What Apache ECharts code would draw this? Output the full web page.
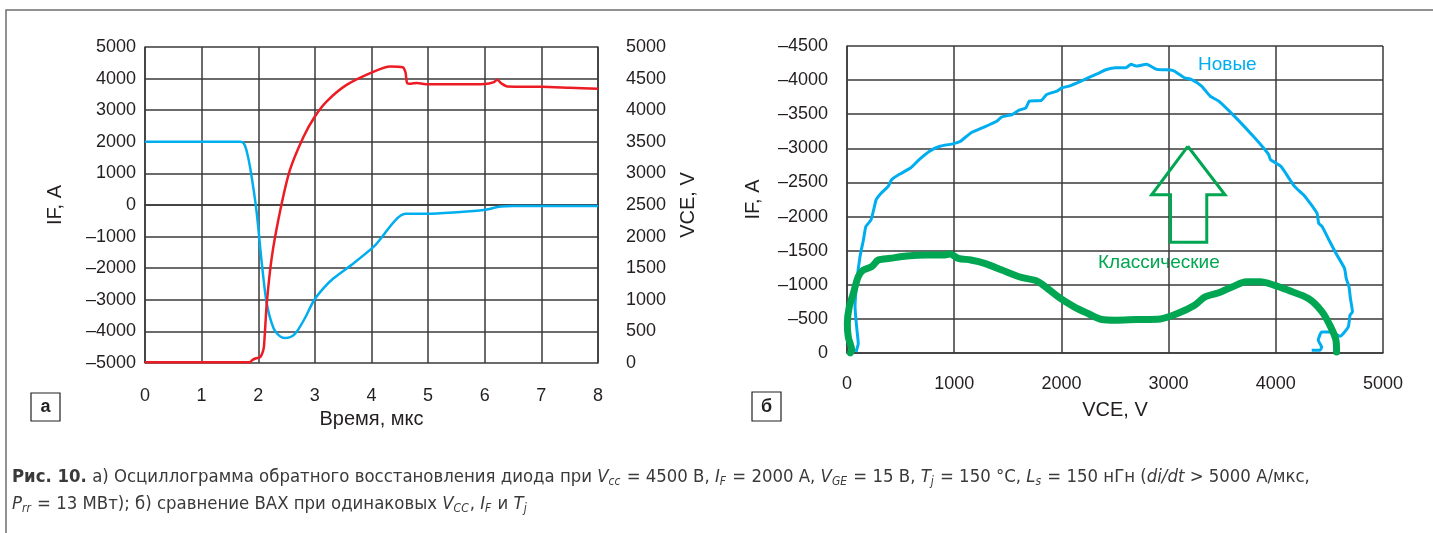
<!DOCTYPE html>
<html>
<head>
<meta charset="utf-8">
<script src="https://cdn.jsdelivr.net/npm/echarts@6/dist/echarts.min.js"></script>
<style>
html, body { margin: 0; padding: 0; background: #fff; }
#main { width: 1433px; height: 533px; }
</style>
</head>
<body>
<div id="main"></div>
<script>
// а) осциллограмма: время, мкс
const tIF = [0, 1.68, 1.74, 1.79, 1.86, 1.97, 2.06, 2.15, 2.27, 2.38, 2.48, 2.58, 2.68, 2.83, 2.98, 3.15, 3.33, 3.68, 4.04, 4.60, 4.98, 5.5, 5.98, 6.28, 6.5, 8];
const ifVals = [2000, 2000, 1960, 1750, 1150, -200, -1800, -3120, -3900, -4150, -4210, -4170, -4010, -3560, -3030, -2640, -2320, -1850, -1320, -280, -280, -230, -160, -50, -30, -30];

const tVce = [0, 1.84, 1.9, 1.96, 2.03, 2.07, 2.1, 2.15, 2.24, 2.39, 2.56, 2.80, 3.0, 3.21, 3.56, 4.04, 4.33, 4.55, 4.60, 4.63, 4.7, 4.8, 5.0, 5.5, 6.0, 6.15, 6.22, 6.3, 6.4, 7.0, 7.5, 8];
const vceVals = [10, 10, 50, 75, 90, 150, 254, 940, 1680, 2420, 3055, 3580, 3900, 4140, 4400, 4610, 4690, 4680, 4600, 4430, 4420, 4430, 4410, 4410, 4415, 4440, 4480, 4420, 4375, 4370, 4355, 4340];

// б) ВАХ: "Новые"
const newVce = [84, 105, 90, 75, 90, 121, 153, 176, 224, 256, 272, 320, 384, 416, 481, 593, 673, 770, 866, 995, 1059, 1155, 1284, 1396, 1445, 1541, 1605, 1669, 1701, 1814, 1862, 1958, 2007, 2071, 2183, 2344, 2408, 2505, 2601, 2649, 2697, 2794, 2890, 3019, 3051, 3147, 3211, 3308, 3388, 3468, 3629, 3790, 3886, 3934, 3950, 4047, 4175, 4272, 4384, 4400, 4432, 4496, 4561, 4641, 4657, 4683, 4696, 4715, 4692, 4676, 4599, 4521, 4428, 4396, 4428, 4412, 4335];
const newIF = [-15, -138, -382, -676, -1020, -1412, -1657, -1853, -1951, -2148, -2246, -2344, -2442, -2540, -2613, -2711, -2834, -2957, -3030, -3069, -3104, -3226, -3315, -3398, -3461, -3496, -3559, -3594, -3692, -3702, -3790, -3839, -3888, -3912, -3986, -4099, -4148, -4182, -4182, -4231, -4206, -4231, -4157, -4148, -4133, -4035, -4010, -3912, -3765, -3692, -3447, -3177, -3005, -2907, -2834, -2736, -2442, -2295, -2050, -1902, -1853, -1657, -1461, -1241, -1094, -971, -800, -604, -554, -382, -246, -309, -309, -187, -88, -40, -40];

// б) ВАХ: "Классические"
const oldVce = [31, 44, 12, 3, 21, 59, 105, 152, 230, 292, 401, 557, 743, 898, 963, 1038, 1155, 1284, 1445, 1605, 1766, 1830, 1991, 2119, 2248, 2376, 2505, 2698, 2922, 3083, 3243, 3340, 3468, 3597, 3725, 3854, 3982, 4111, 4304, 4432, 4512, 4561, 4567];
const oldIF = [0, -40, -235, -432, -676, -873, -1118, -1216, -1265, -1363, -1388, -1422, -1437, -1437, -1450, -1388, -1363, -1314, -1216, -1118, -1059, -995, -799, -677, -579, -491, -481, -491, -500, -579, -701, -824, -883, -971, -1044, -1044, -995, -922, -799, -604, -383, -187, -15];

// стрелка (контур)
const arrowVce = [3179, 3526, 3356, 3356, 3018, 3018, 2842, 3179];
const arrowIF = [-3030, -2319, -2319, -1623, -1623, -2319, -2319, -3030];

const zip = (a, b) => a.map((v, i) => [v, b[i]]);
const plain = v => String(v).replace('-', '\u2013');

const FONT = "'Liberation Sans', Arial, sans-serif";
const CAP_FONT = "'Liberation Sans Narrow', 'DejaVu Sans Condensed', 'Liberation Sans', sans-serif";
const BLUE = '#00aeef';
const RED = '#ed1c24';
const GREEN = '#00a651';
const GRID_COLOR = '#3a3a3a';

const labelStyle = { fontFamily: FONT, fontSize: 18, color: '#231f20', formatter: plain };
const nameStyle = { fontFamily: FONT, fontSize: 20, color: '#231f20' };
const lineAxis = { show: true, lineStyle: { color: GRID_COLOR, width: 1.5 } };
const split = { show: true, lineStyle: { color: GRID_COLOR, width: 1.5 } };

const chart = echarts.init(document.getElementById('main'));

chart.setOption({
    animation: false,
    backgroundColor: '#fff',
    grid: [
        { left: 145, top: 47, width: 453, height: 316 },
        { left: 847, top: 46, width: 536, height: 307 }
    ],
    xAxis: [
        {
            type: 'value', gridIndex: 0, min: 0, max: 8, interval: 1,
            axisLine: lineAxis, axisTick: { show: false }, splitLine: split,
            axisLabel: { ...labelStyle, margin: 24 },
            name: 'Время, мкс', nameLocation: 'middle', nameGap: 44, nameTextStyle: nameStyle
        },
        {
            type: 'value', gridIndex: 1, min: 0, max: 5000, interval: 1000,
            axisLine: lineAxis, axisTick: { show: false }, splitLine: split,
            axisLabel: { ...labelStyle, margin: 22 },
            name: 'VCE, V', nameLocation: 'middle', nameGap: 47, nameTextStyle: nameStyle
        }
    ],
    yAxis: [
        {
            type: 'value', gridIndex: 0, position: 'left', min: -5000, max: 5000, interval: 1000,
            axisLine: lineAxis, axisTick: { show: false }, splitLine: split,
            axisLabel: { ...labelStyle, margin: 9 },
            name: 'IF, A', nameLocation: 'middle', nameGap: 80, nameTextStyle: nameStyle
        },
        {
            type: 'value', gridIndex: 0, position: 'right', min: 0, max: 5000, interval: 500,
            axisLine: lineAxis, axisTick: { show: false }, splitLine: { show: false },
            axisLabel: { ...labelStyle, margin: 28 },
            name: 'VCE, V', nameLocation: 'middle', nameGap: 80, nameTextStyle: nameStyle
        },
        {
            type: 'value', gridIndex: 1, min: -4500, max: 0, interval: 500, inverse: true,
            axisLine: lineAxis, axisTick: { show: false }, splitLine: split,
            axisLabel: { ...labelStyle, margin: 19 },
            name: 'IF, A', nameLocation: 'middle', nameGap: 84, nameTextStyle: nameStyle
        }
    ],
    series: [
        {
            type: 'line', xAxisIndex: 0, yAxisIndex: 0, data: zip(tIF, ifVals),
            showSymbol: false, smooth: 0.25,
            lineStyle: { color: BLUE, width: 2.5 }
        },
        {
            type: 'line', xAxisIndex: 0, yAxisIndex: 1, data: zip(tVce, vceVals),
            showSymbol: false, smooth: 0.25,
            lineStyle: { color: RED, width: 2.5 }
        },
        {
            type: 'line', xAxisIndex: 1, yAxisIndex: 2, data: zip(newVce, newIF),
            showSymbol: false, smooth: 0.15,
            lineStyle: { color: BLUE, width: 3 }
        },
        {
            type: 'line', xAxisIndex: 1, yAxisIndex: 2, data: zip(oldVce, oldIF),
            showSymbol: false, smooth: 0.3,
            lineStyle: { color: GREEN, width: 7, cap: 'round', join: 'round' }
        },
        {
            type: 'line', xAxisIndex: 1, yAxisIndex: 2, data: zip(arrowVce, arrowIF),
            showSymbol: false,
            lineStyle: { color: GREEN, width: 3, join: 'miter' }
        }
    ],
    graphic: [
        // внешняя рамка
        { type: 'rect', shape: { x: 6, y: 10, width: 1440, height: 540 }, style: { fill: 'none', stroke: '#6d6e71', lineWidth: 1.5 }, silent: true },
        // метки панелей
        { type: 'rect', shape: { x: 31, y: 393, width: 29, height: 28 }, style: { fill: '#fff', stroke: '#231f20', lineWidth: 1.2 } },
        { type: 'text', x: 45.5, y: 407, style: { text: 'а', font: "bold 18px " + FONT, fill: '#231f20', align: 'center', verticalAlign: 'middle' } },
        { type: 'rect', shape: { x: 752, y: 392, width: 29, height: 29 }, style: { fill: '#fff', stroke: '#231f20', lineWidth: 1.2 } },
        { type: 'text', x: 766.5, y: 407, style: { text: 'б', font: "bold 18px " + FONT, fill: '#231f20', align: 'center', verticalAlign: 'middle' } },
        // подписи кривых
        { type: 'text', x: 1198, y: 65, style: { text: 'Новые', font: "19px " + FONT, fill: BLUE, verticalAlign: 'middle' } },
        { type: 'text', x: 1098, y: 263, style: { text: 'Классические', font: "19px " + FONT, fill: GREEN, verticalAlign: 'middle' } },
        // подпись к рисунку
        {
            type: 'text', x: 12, y: 464,
            style: {
                text: '{b|Рис. 10.} а) Осциллограмма обратного восстановления диода при {i|V}{s|cc} = 4500 В, {i|I}{s|F} = 2000 А, {i|V}{s|GE} = 15 В, {i|T}{s|j} = 150 °C, {i|L}{s|s} = 150 нГн ({i|di/dt} > 5000 А/мкс,\n{i|P}{s|rr} = 13 МВт); б) сравнение ВАХ при одинаковых {i|V}{s|CC}, {i|I}{s|F} и {i|T}{s|j}',
                font: "18.4px " + CAP_FONT,
                fill: '#3a3a3a',
                lineHeight: 27,
                rich: {
                    b: { fontFamily: CAP_FONT, fontSize: 18.4, fontWeight: 'bold', color: '#231f20' },
                    i: { fontFamily: CAP_FONT, fontSize: 18.4, fontStyle: 'italic', color: '#3a3a3a' },
                    s: { fontFamily: CAP_FONT, fontSize: 12, fontStyle: 'italic', color: '#3a3a3a', padding: [9, 1, 0, 0] }
                }
            }
        }
    ]
});
</script>
</body>
</html>
